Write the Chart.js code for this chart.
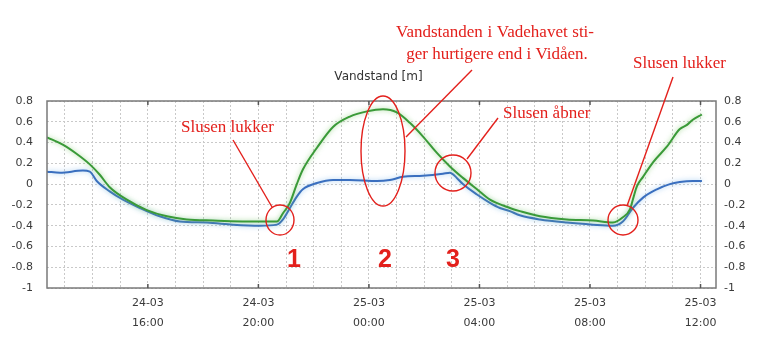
<!DOCTYPE html>
<html>
<head>
<meta charset="utf-8">
<script src="https://cdn.jsdelivr.net/npm/chart.js@4.4.0/dist/chart.umd.min.js"></script>
<style>
  html, body { margin: 0; padding: 0; background: #fff; }
  #wrap { width: 774px; height: 358px; }
</style>
</head>
<body>
<div id="wrap"><canvas id="vandChart"></canvas></div>
<script>
// hours counted from 24-03 00:00
const greenHours = [12.35, 12.92, 13.43, 13.90, 14.26, 14.62, 15.24, 15.96, 16.69, 17.41, 18.35, 20.05, 20.67,
  20.89, 21.14, 21.39, 21.61, 22.12, 22.70, 23.31, 23.93, 24.51, 25.01, 25.48, 25.95, 26.46, 26.93, 27.40,
  27.91, 28.38, 29.10, 29.46, 30.19, 31.16, 32.11, 32.83, 33.19, 33.45, 33.55, 33.70, 33.92, 34.28, 34.78,
  35.25, 35.51, 35.72, 36.05];
const greenLevels = [0.45, 0.38, 0.29, 0.19, 0.09, -0.03, -0.15, -0.25, -0.31, -0.34, -0.35, -0.36, -0.36,
  -0.28, -0.18, 0.0, 0.14, 0.35, 0.55, 0.65, 0.70, 0.72, 0.69, 0.59, 0.46, 0.30, 0.17, 0.06,
  -0.05, -0.15, -0.23, -0.26, -0.31, -0.34, -0.35, -0.37, -0.32, -0.24, -0.15, -0.02, 0.07, 0.21, 0.36,
  0.53, 0.57, 0.62, 0.67];

const blueHours = [12.35, 12.82, 13.65, 13.90, 14.15, 14.62, 15.10, 15.71, 16.43, 17.16, 18.14, 19.08, 20.05,
  20.67, 20.89, 21.14, 21.39, 21.61, 22.12, 22.70, 23.31, 24.29, 24.76, 25.23, 25.95, 26.68, 26.93, 27.18,
  27.40, 27.91, 28.38, 28.74, 29.10, 29.46, 30.19, 31.16, 32.11, 32.83, 33.19, 33.55, 33.92, 34.42, 34.89,
  35.25, 35.72, 36.05];
const blueLevels = [0.12, 0.11, 0.13, 0.12, 0.03, -0.07, -0.15, -0.23, -0.31, -0.36, -0.37, -0.39, -0.40,
  -0.39, -0.34, -0.23, -0.12, -0.05, 0.01, 0.04, 0.04, 0.03, 0.04, 0.07, 0.08, 0.10, 0.11, 0.06,
  0.0, -0.10, -0.18, -0.23, -0.26, -0.30, -0.34, -0.37, -0.39, -0.40, -0.36, -0.23, -0.13, -0.05, 0.0,
  0.02, 0.03, 0.03];

const gridHours = [13, 14, 15, 16, 17, 18, 19, 20, 21, 22, 23, 24, 25, 26, 27, 28, 29, 30, 31, 32, 33, 34, 35, 36];
const tickHours = [16, 20, 24, 28, 32, 36];
const tickLabels = [['24-03', '16:00'], ['24-03', '20:00'], ['25-03', '00:00'],
  ['25-03', '04:00'], ['25-03', '08:00'], ['25-03', '12:00']];
const levelTicks = [0.8, 0.6, 0.4, 0.2, 0, -0.2, -0.4, -0.6, -0.8, -1];
const levelLabels = ['0.8', '0.6', '0.4', '0.2', '0', '-0.2', '-0.4', '-0.6', '-0.8', '-1'];

const RED = '#e3201c';
const tickFont = { family: 'DejaVu Sans', size: 11, lineHeight: 1.82 };

function toPoints(xs, ys) {
  return xs.map((x, i) => ({ x: x, y: ys[i] }));
}

function levelLabel(value) {
  const i = levelTicks.findIndex(t => Math.abs(t - value) < 1e-6);
  return i >= 0 ? levelLabels[i] : '';
}

function setLevelTicks(scale) {
  scale.ticks = levelTicks.map(v => ({ value: v }));
}

// leader lines, rings and notes drawn over the chart
const notes = [
  { text: 'Slusen lukker', x: 181, y: 132 },
  { text: 'Slusen åbner', x: 503, y: 118 },
  { text: 'Slusen lukker', x: 633, y: 68 },
  { text: 'ger hurtigere end i Vidåen.', x: 497, y: 59, center: true }
];
const justifiedLine = { words: ['Vandstanden', 'i', 'Vadehavet', 'sti-'], left: 396, right: 594, y: 37 };
const rings = [
  { x: 280, y: 220, rx: 14, ry: 15 },
  { x: 383, y: 151, rx: 22, ry: 55 },
  { x: 453, y: 173, rx: 18, ry: 18 },
  { x: 623, y: 220, rx: 15, ry: 15 }
];
const leaders = [
  [233, 140, 272, 207],
  [472, 70, 406, 137],
  [498, 118, 467, 159],
  [673, 77, 627, 206]
];
const numbers = [{ text: '1', x: 294 }, { text: '2', x: 385 }, { text: '3', x: 453 }];

const glowPlugin = {
  id: 'glow',
  beforeDatasetDraw(chart, args) {
    const ctx = chart.ctx;
    ctx.save();
    ctx.shadowColor = args.index === 0 ? 'rgba(120, 200, 100, 0.7)' : 'rgba(120, 180, 235, 0.7)';
    ctx.shadowBlur = 5;
  },
  afterDatasetDraw(chart) {
    chart.ctx.restore();
  }
};

const framePlugin = {
  id: 'frame',
  afterDatasetsDraw(chart) {
    const { ctx, chartArea: a, scales } = chart;
    ctx.save();
    ctx.strokeStyle = '#7a7a7a';
    ctx.lineWidth = 1.5;
    ctx.strokeRect(a.left, a.top, a.right - a.left, a.bottom - a.top);
    ctx.strokeStyle = '#555';
    ctx.lineWidth = 1.5;
    tickHours.forEach(h => {
      const px = scales.x.getPixelForValue(h);
      ctx.beginPath();
      ctx.moveTo(px, a.bottom); ctx.lineTo(px, a.bottom - 4);
      ctx.moveTo(px, a.top); ctx.lineTo(px, a.top + 4);
      ctx.stroke();
    });
    ctx.fillStyle = '#333';
    ctx.font = '12px "DejaVu Sans"';
    ctx.textAlign = 'center';
    ctx.textBaseline = 'middle';
    ctx.fillText('Vandstand [m]', (a.left + a.right) / 2 - 3, 77);
    ctx.restore();
  }
};

const notesPlugin = {
  id: 'notes',
  afterDraw(chart) {
    const ctx = chart.ctx;
    ctx.save();
    ctx.strokeStyle = RED;
    ctx.fillStyle = RED;
    ctx.lineWidth = 1.4;

    rings.forEach(r => {
      ctx.beginPath();
      ctx.ellipse(r.x, r.y, r.rx, r.ry, 0, 0, Math.PI * 2);
      ctx.stroke();
    });
    leaders.forEach(l => {
      ctx.beginPath();
      ctx.moveTo(l[0], l[1]);
      ctx.lineTo(l[2], l[3]);
      ctx.stroke();
    });

    ctx.font = '17px "Liberation Serif"';
    ctx.textBaseline = 'alphabetic';
    notes.forEach(n => {
      ctx.textAlign = n.center ? 'center' : 'left';
      ctx.fillText(n.text, n.x, n.y);
    });

    // first caption line is justified
    ctx.textAlign = 'left';
    const widths = justifiedLine.words.map(w => ctx.measureText(w).width);
    const total = widths.reduce((s, w) => s + w, 0);
    const gap = (justifiedLine.right - justifiedLine.left - total) / (justifiedLine.words.length - 1);
    let cx = justifiedLine.left;
    justifiedLine.words.forEach((w, i) => {
      ctx.fillText(w, cx, justifiedLine.y);
      cx += widths[i] + gap;
    });

    ctx.font = 'bold 25px "Liberation Sans"';
    ctx.textAlign = 'center';
    numbers.forEach(n => ctx.fillText(n.text, n.x, 267));
    ctx.restore();
  }
};

new Chart(document.getElementById('vandChart'), {
  type: 'line',
  data: {
    datasets: [
      {
        label: 'Vadehavet',
        data: toPoints(greenHours, greenLevels),
        borderColor: '#3a9a38',
        borderWidth: 2,
        pointRadius: 0,
        cubicInterpolationMode: 'monotone',
        yAxisID: 'y'
      },
      {
        label: 'Vidåen',
        data: toPoints(blueHours, blueLevels),
        borderColor: '#3a6fbf',
        borderWidth: 2,
        pointRadius: 0,
        cubicInterpolationMode: 'monotone',
        yAxisID: 'y'
      }
    ]
  },
  options: {
    responsive: true,
    maintainAspectRatio: false,
    animation: false,
    layout: { padding: { top: 101, left: 0, right: 0, bottom: 0 } },
    plugins: {
      legend: { display: false },
      title: { display: false },
      tooltip: { enabled: false }
    },
    scales: {
      x: {
        type: 'linear',
        min: 12.35,
        max: 36.56,
        afterBuildTicks(scale) {
          scale.ticks = gridHours.map(v => ({ value: v }));
        },
        afterFit(scale) { scale.height = 70; },
        ticks: {
          autoSkip: false,
          maxRotation: 0,
          padding: 5,
          color: '#3a3a3a',
          font: tickFont,
          callback(value) {
            const i = tickHours.indexOf(value);
            return i >= 0 ? tickLabels[i] : '';
          }
        },
        grid: { color: '#c9c9c9', lineWidth: 1, drawTicks: false },
        border: { display: false, dash: [2, 2] }
      },
      y: {
        position: 'left',
        min: -1,
        max: 0.8,
        afterBuildTicks: setLevelTicks,
        afterFit(scale) { scale.width = 47; },
        ticks: { autoSkip: false, padding: 14, color: '#3a3a3a', font: tickFont, callback: levelLabel },
        grid: { color: '#c9c9c9', lineWidth: 1, drawTicks: false },
        border: { display: false, dash: [2, 2] }
      },
      y2: {
        position: 'right',
        min: -1,
        max: 0.8,
        afterBuildTicks: setLevelTicks,
        afterFit(scale) { scale.width = 58; },
        ticks: { autoSkip: false, padding: 8, color: '#3a3a3a', font: tickFont, callback: levelLabel },
        grid: { drawOnChartArea: false, drawTicks: false },
        border: { display: false }
      }
    }
  },
  plugins: [glowPlugin, framePlugin, notesPlugin]
});
</script>
</body>
</html>
